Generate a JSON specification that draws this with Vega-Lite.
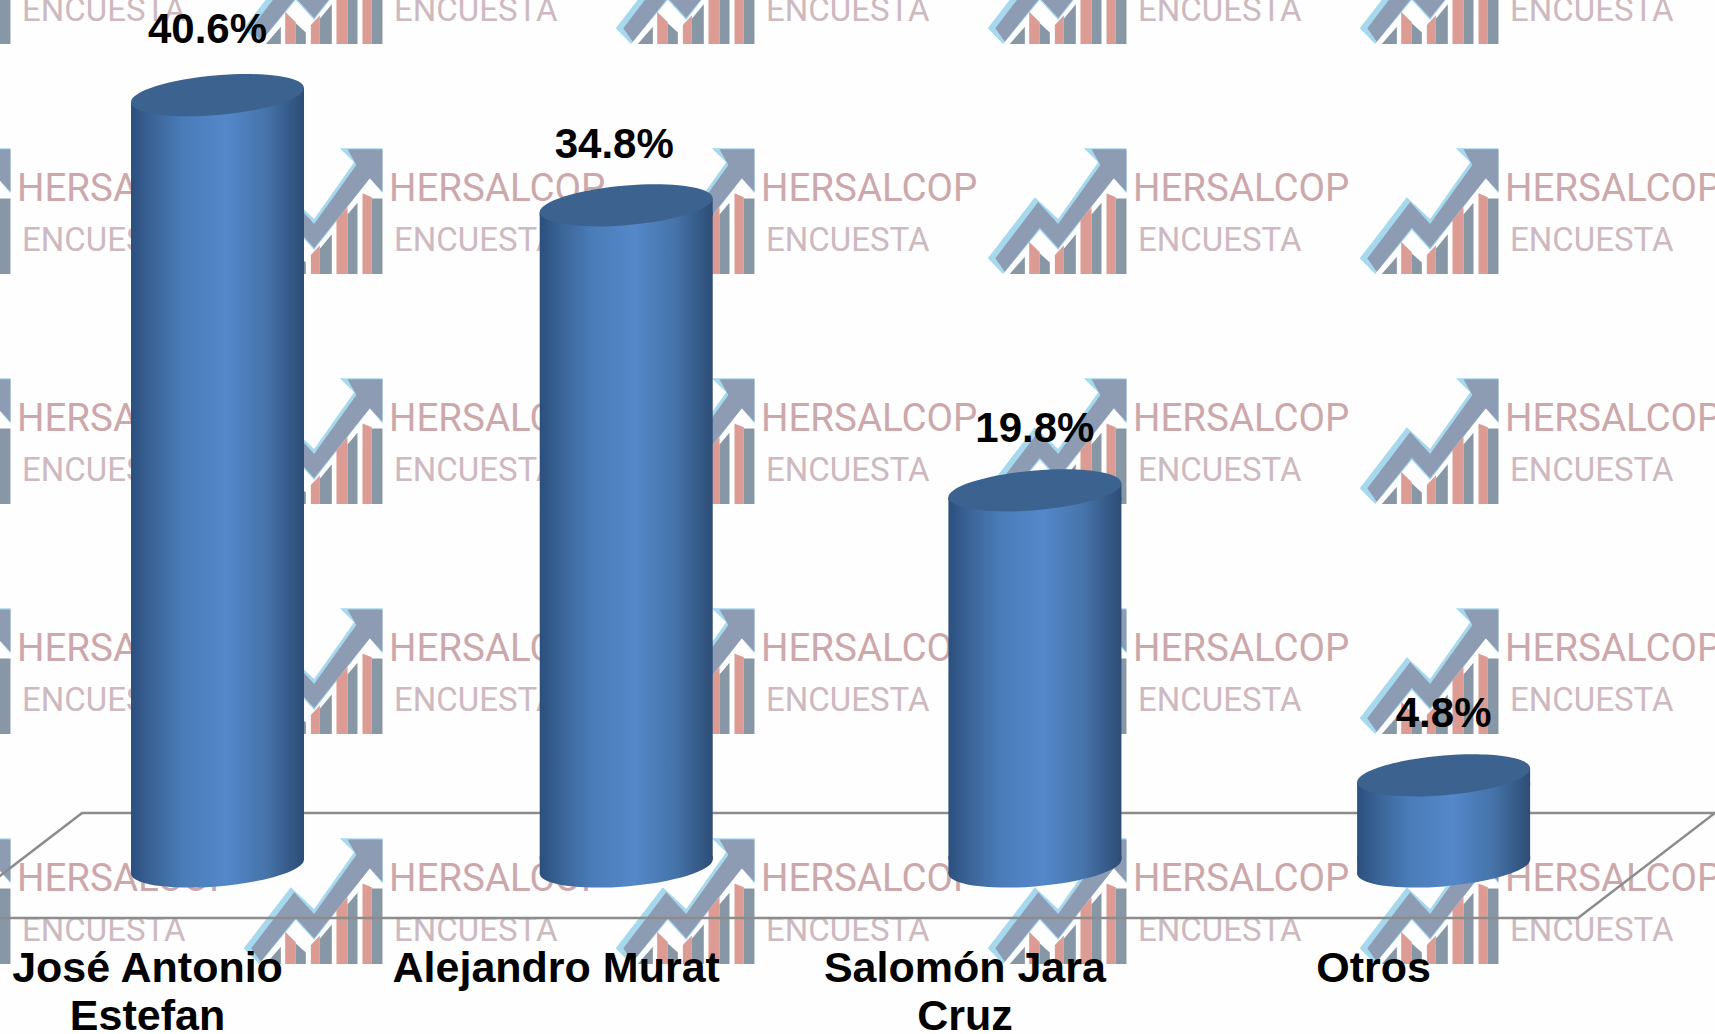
{
"$schema":"https://vega.github.io/schema/vega-lite/v6.json",
"width":1715,"height":1034,"padding":0,"autosize":{"type":"none"},
"background":"#fefefe",
"config":{"view":{"stroke":null}},
"datasets":{
"cand":[{"pos":1,"name":"José Antonio Estefan","pct":40.6,"lab":"40.6%"},{"pos":2,"name":"Alejandro Murat","pct":34.8,"lab":"34.8%"},{"pos":3,"name":"Salomón Jara Cruz","pct":19.8,"lab":"19.8%"},{"pos":4,"name":"Otros","pct":4.8,"lab":"4.8%"}],
"tiles":[{"col":0,"row":0},{"col":1,"row":0},{"col":2,"row":0},{"col":3,"row":0},{"col":4,"row":0},{"col":0,"row":1},{"col":1,"row":1},{"col":2,"row":1},{"col":3,"row":1},{"col":4,"row":1},{"col":0,"row":2},{"col":1,"row":2},{"col":2,"row":2},{"col":3,"row":2},{"col":4,"row":2},{"col":0,"row":3},{"col":1,"row":3},{"col":2,"row":3},{"col":3,"row":3},{"col":4,"row":3},{"col":0,"row":4},{"col":1,"row":4},{"col":2,"row":4},{"col":3,"row":4},{"col":4,"row":4}],
"floor":[{"s":1,"p":0.3332,"v":-2.71},{"s":2,"p":0.6685,"v":2.816},{"s":3,"p":4.664,"v":2.816},{"s":4,"p":4.3288,"v":-2.71},{"s":5,"p":0.3332,"v":-2.71}]
},
"layer":[
{"data":{"name":"tiles"},
 "encoding":{
  "x":{"field":"col","type":"quantitative","scale":{"domain":[0.1546,4.7648],"nice":false,"zero":false},"axis":null},
  "y":{"field":"row","type":"quantitative","scale":{"domain":[4.578,0.0826],"nice":false,"zero":false},"axis":null}
 },
 "layer":[
  {"mark":{"type":"point","filled":true,"opacity":1,"size":18860,"color":"#a6d8ee","strokeWidth":0,"shape":"M-1.03 .689L-.345 -.2L-.005 .115L.578 -.71L.369 -.913L.99 -.913L.99 -.257L.806 -.476L-.005 .568L-.272 .277L-.806 .917Z"}},
  {"mark":{"type":"point","filled":true,"opacity":1,"size":18860,"color":"#8d9bb3","strokeWidth":0,"shape":"M-.92 .689L-.296 -.13L-.005 .19L.61 -.67L.481 -.898L.99 -.898L.99 -.282L.806 -.476L-.005 .54L-.272 .245L-.782 .883Z"}},
  {"mark":{"type":"point","filled":true,"opacity":1,"size":18860,"color":"#dc9c93","strokeWidth":0,"shape":"M-.427 .917L-.427 .447L-.272 .6L-.272 .917ZM-.053 .917L-.053 .641L.078 .5L.078 .917ZM.32 .917L.32 .131L.481 -.06L.481 .917ZM.699 .917L.699 -.257L.835 -.2L.835 .917Z"}},
  {"mark":{"type":"point","filled":true,"opacity":1,"size":18860,"color":"#8797a5","strokeWidth":0,"shape":"M-.709 .917L-.49 .665L-.49 .917ZM-.272 .917L-.272 .617L-.126 .75L-.126 .917ZM.078 .917L.078 .55L.252 .34L.252 .917ZM.481 .917L.481 .05L.626 -.12L.626 .917ZM.835 .917L.835 -.184L.99 -.184L.99 .917Z"}},
  {"mark":{"type":"text","text":"HERSALCOP","align":"left","baseline":"alphabetic","dx":74.5,"dy":-10,"font":"Roboto","fontSize":38.5,"fontWeight":400,"color":"#cca8ab"}},
  {"mark":{"type":"text","text":"ENCUESTA","align":"left","baseline":"alphabetic","dx":79.5,"dy":40,"font":"Roboto","fontSize":33,"fontWeight":400,"color":"#cdb9bf"}}
 ]
},
{
 "encoding":{
  "x":{"field":"pos","type":"quantitative","scale":{"domain":[0.4678,4.664],"nice":false,"zero":false,"padding":0},
   "axis":{"values":[1,2,3,4],"title":null,"grid":false,"ticks":false,"domain":false,"orient":"bottom","offset":-87,"labelOffset":-70.5,"labelPadding":0,"labelFont":"Liberation Sans","labelFontWeight":"bold","labelFontSize":43,"labelColor":"#000000","labelLineHeight":48,"labelBaseline":"top","labelOverlap":false,"labelFlush":false,"labelBound":false,"labelLimit":1000,"zindex":1,
    "labelExpr":"datum.value==1?['José Antonio','Estefan']:datum.value==2?'Alejandro Murat':datum.value==3?['Salomón Jara','Cruz']:'Otros'"}},
  "y":{"field":"pct","type":"quantitative","scale":{"domain":[-8.816,45.605],"nice":false,"zero":false,"padding":0},"axis":null}
 },
 "layer":[
  {"data":{"name":"floor"},"mark":{"type":"line","color":"#8c8c8c","strokeWidth":2.5,"clip":true},
   "encoding":{"x":{"field":"p","type":"quantitative","scale":{"domain":[0.4678,4.664],"nice":false,"zero":false,"padding":0}},"y":{"field":"v","type":"quantitative","scale":{"domain":[-8.816,45.605],"nice":false,"zero":false,"padding":0}},"order":{"field":"s","type":"quantitative"}}},
  {"data":{"name":"cand"},"transform":[{"calculate":"0","as":"base"}],"mark":{"type":"point","filled":true,"opacity":1,"size":29929,"strokeWidth":0,"shape":"M1 -.0814C1 .0456 .5523 .185 0 .23C-.5523 .275 -1 .2084 -1 .0814C-1 -.0456 -.5523 -.185 0 -.23C.5523 -.275 1 -.2084 1 -.0814Z",
    "color":{"gradient":"linear","x1":0,"x2":1,"y1":0,"y2":0,"stops":[{"offset":0,"color":"#2b4f7d"},{"offset":0.12,"color":"#3a6496"},{"offset":0.3,"color":"#4a7cb8"},{"offset":0.55,"color":"#5488ca"},{"offset":0.78,"color":"#4674aa"},{"offset":0.92,"color":"#365a88"},{"offset":1,"color":"#2d4d75"}]}},
   "encoding":{"y":{"field":"base","type":"quantitative"}}},
  {"data":{"name":"cand"},"transform":[{"calculate":"0","as":"base"}],"mark":{"type":"point","filled":true,"opacity":1,"size":29929,"strokeWidth":0,"shape":"M-1 -.12L1 -.12L1 -.0814L-1 .0814Z",
    "color":{"gradient":"linear","x1":0,"x2":1,"y1":0,"y2":0,"stops":[{"offset":0,"color":"#2b4f7d"},{"offset":0.12,"color":"#3a6496"},{"offset":0.3,"color":"#4a7cb8"},{"offset":0.55,"color":"#5488ca"},{"offset":0.78,"color":"#4674aa"},{"offset":0.92,"color":"#365a88"},{"offset":1,"color":"#2d4d75"}]}},
   "encoding":{"y":{"field":"base","type":"quantitative"}}},
  {"data":{"name":"cand"},"mark":{"type":"bar","width":173,"yOffset":7,"y2Offset":-7,
    "color":{"gradient":"linear","x1":0,"x2":1,"y1":0,"y2":0,"stops":[{"offset":0,"color":"#2b4f7d"},{"offset":0.12,"color":"#3a6496"},{"offset":0.3,"color":"#4a7cb8"},{"offset":0.55,"color":"#5488ca"},{"offset":0.78,"color":"#4674aa"},{"offset":0.92,"color":"#365a88"},{"offset":1,"color":"#2d4d75"}]}},
   "encoding":{"y2":{"datum":0}}},
  {"data":{"name":"cand"},"mark":{"type":"point","filled":true,"opacity":1,"size":29929,"strokeWidth":0,"shape":"M-1 .0814L1 -.0814L1 .12L-1 .12Z",
    "color":{"gradient":"linear","x1":0,"x2":1,"y1":0,"y2":0,"stops":[{"offset":0,"color":"#2b4f7d"},{"offset":0.12,"color":"#3a6496"},{"offset":0.3,"color":"#4a7cb8"},{"offset":0.55,"color":"#5488ca"},{"offset":0.78,"color":"#4674aa"},{"offset":0.92,"color":"#365a88"},{"offset":1,"color":"#2d4d75"}]}}},
  {"data":{"name":"cand"},"mark":{"type":"point","filled":true,"opacity":1,"size":29929,"strokeWidth":0,"color":"#3c628f","shape":"M1 -.0814C1 .0456 .5523 .185 0 .23C-.5523 .275 -1 .2084 -1 .0814C-1 -.0456 -.5523 -.185 0 -.23C.5523 -.275 1 -.2084 1 -.0814Z"}},
  {"data":{"name":"cand"},"transform":[{"filter":"datum.pos==1"}],"mark":{"type":"text","baseline":"alphabetic","dx":-10,"dy":-52,"font":"Liberation Sans","fontWeight":"bold","fontSize":42,"color":"#000000"},"encoding":{"text":{"field":"lab"}}},
  {"data":{"name":"cand"},"transform":[{"filter":"datum.pos==2"}],"mark":{"type":"text","baseline":"alphabetic","dx":-12,"dy":-47.5,"font":"Liberation Sans","fontWeight":"bold","fontSize":42,"color":"#000000"},"encoding":{"text":{"field":"lab"}}},
  {"data":{"name":"cand"},"transform":[{"filter":"datum.pos>2"}],"mark":{"type":"text","baseline":"alphabetic","dx":0,"dy":-48,"font":"Liberation Sans","fontWeight":"bold","fontSize":42,"color":"#000000"},"encoding":{"text":{"field":"lab"}}}
 ]
}
],
"resolve":{"scale":{"x":"independent","y":"independent"}}
}
